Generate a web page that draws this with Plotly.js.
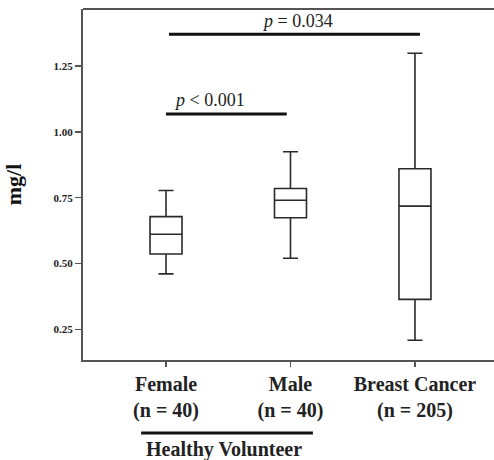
<!DOCTYPE html>
<html>
<head>
<meta charset="utf-8">
<script src="https://cdn.plot.ly/plotly-3.0.1.min.js"></script>
<style>html,body{margin:0;padding:0;background:#fff;overflow:hidden;}</style>
</head>
<body>
<div id="chart" style="width:494px;height:460px;"></div>
<script>
const categories = ["Female<br>(n = 40)", "Male<br>(n = 40)", "Breast Cancer<br>(n = 205)"];
const positions = [0, 1, 2];
const lowerWhisker = [0.461, 0.520, 0.209];
const q1Values = [0.536, 0.674, 0.364];
const medians = [0.611, 0.740, 0.718];
const q3Values = [0.678, 0.785, 0.860];
const upperWhisker = [0.777, 0.924, 1.298];
const yTicks = [0.25, 0.50, 0.75, 1.00, 1.25];
const yTickText = ["0.25", "0.50", "0.75", "1.00", "1.25"];
const pLabels = ["<i>p</i> < 0.001", "<i>p</i> = 0.034"];
const pBars = [{x0: 0, x1: 0.97, y: 1.068}, {x0: 0.024, x1: 2.04, y: 1.370}];

const serif = "Liberation Serif, Times New Roman, serif";

const trace = {
  type: 'box',
  x: positions,
  q1: q1Values,
  median: medians,
  q3: q3Values,
  lowerfence: lowerWhisker,
  upperfence: upperWhisker,
  width: 0.257,
  whiskerwidth: 0.47,
  fillcolor: '#ffffff',
  line: {color: '#2a2a2a', width: 1.6},
  boxpoints: false,
  hoverinfo: 'skip',
  showlegend: false
};

const shapes = pBars.map(b => ({
  type: 'line', xref: 'x', yref: 'y', x0: b.x0, x1: b.x1, y0: b.y, y1: b.y,
  line: {color: '#111', width: 3}
}));
// healthy volunteer bracket
shapes.push({type: 'line', xref: 'x', yref: 'paper', x0: -0.2, x1: 1.18, y0: -0.208, y1: -0.208,
  line: {color: '#111', width: 3}});
// top frame line
shapes.push({type: 'line', xref: 'paper', yref: 'paper', x0: 0, x1: 1.02, y0: 1, y1: 1,
  line: {color: '#555', width: 2}});

const annotations = [
  {text: pLabels[0], x: 0.35, y: 1.121, xref: 'x', yref: 'y', showarrow: false,
   xanchor: 'center', yanchor: 'middle',
   font: {family: serif, size: 18, color: '#222'}},
  {text: pLabels[1], x: 1.06, y: 1.42, xref: 'x', yref: 'y', showarrow: false,
   xanchor: 'center', yanchor: 'middle',
   font: {family: serif, size: 18, color: '#222'}},
  {text: "Healthy Volunteer", x: 0.466, y: -0.254, xref: 'x', yref: 'paper', showarrow: false,
   xanchor: 'center', yanchor: 'middle',
   font: {family: serif, size: 20, color: '#222', weight: 'bold'}}
];

const layout = {
  width: 494, height: 460,
  margin: {l: 83, r: 0, t: 9, b: 100, pad: 0},
  paper_bgcolor: '#fff', plot_bgcolor: '#fff',
  xaxis: {
    range: [-0.667, 0.635 + 2],
    tickvals: positions, ticktext: categories,
    showgrid: false, zeroline: false, automargin: false,
    showline: true, linecolor: '#555', linewidth: 2,
    ticks: 'outside', ticklen: 5, tickcolor: '#555', tickwidth: 1.5,
    tickfont: {family: serif, size: 20, color: '#222', weight: 'bold'}
  },
  yaxis: {
    range: [0.134, 1.466],
    tickvals: yTicks, ticktext: yTickText,
    showgrid: false, zeroline: false, automargin: false,
    showline: true, linecolor: '#555', linewidth: 2,
    ticks: 'outside', ticklen: 6, tickcolor: '#555', tickwidth: 1.5,
    tickfont: {family: serif, size: 11, color: '#222', weight: 'bold'},
    title: {text: 'mg/l', standoff: 26, font: {family: serif, size: 22, color: '#111', weight: 'bold'}}
  },
  shapes: shapes,
  annotations: annotations
};

Plotly.newPlot('chart', [trace], layout, {displayModeBar: false, staticPlot: true});
</script>
</body>
</html>
